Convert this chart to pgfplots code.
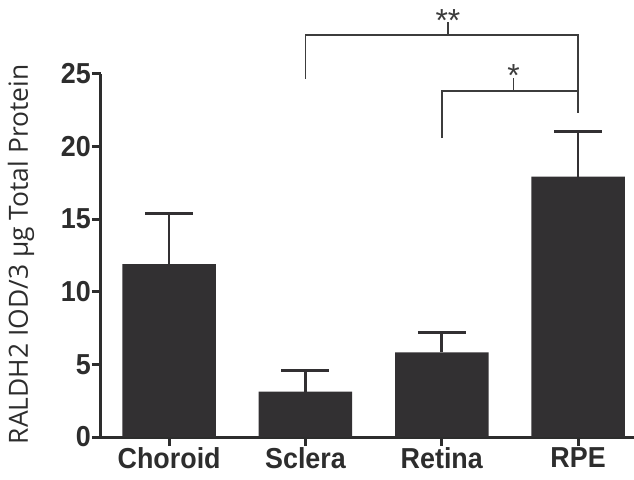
\documentclass[border=0pt]{standalone}
\usepackage{fontspec}
\setmainfont{Liberation Sans}
\newfontfamily\condfont[FakeStretch=0.93]{Liberation Sans Bold}
\newfontfamily\labelfont{Open Sans}
\usepackage{pgfplots}
\pgfplotsset{compat=1.18}
\definecolor{barc}{RGB}{50,48,50}
\definecolor{axc}{RGB}{45,45,45}
\definecolor{brc}{RGB}{60,60,60}
\begin{document}
\begin{tikzpicture}
\path[use as bounding box] (-101bp,-43bp) rectangle (533bp,437bp);
\begin{axis}[
  at={(0,0)}, anchor=south west,
  scale only axis, width=533bp, height=363bp,
  xmin=-0.5, xmax=3.41, ymin=0, ymax=25,
  clip=false,
  axis x line*=bottom, axis y line*=left,
  axis line style={line width=3bp, axc, -},
  xtick={0,1,2,3}, xticklabels={Choroid,Sclera,Retina,RPE},
  ytick={0,5,10,15,20,25},
  tick style={line width=3bp, axc},
  major tick length=9bp, tick align=outside,
  /pgf/number format/assume math mode=true,
  x tick label style={font=\condfont\fontsize{29}{29}\selectfont, text=axc, inner sep=1.5bp},
  y tick label style={font=\condfont\fontsize{29}{29}\selectfont, text=axc, inner sep=1bp},
  ylabel={RALDH2 IOD/3 μg Total Protein},
  ylabel style={font=\labelfont\fontsize{26.5}{26.5}\selectfont, text=axc, at={(axis description cs:-0.150,0.503)}, anchor=center},
]
\addplot[ybar, bar width=93.5bp, fill=barc, draw=none,
  error bars/.cd, y dir=plus, y explicit,
  error bar style={line width=2.6bp, barc},
  error mark options={line width=3bp, mark size=24bp, rotate=90, barc}]
  coordinates {
  (0,11.91) +- (0,3.45)
  (1,3.12) +- (0,1.43)
  (2,5.83) +- (0,1.38)
  (3,17.93) +- (0,3.10)
  };
\addplot[line width=1.5bp, brc] coordinates {(1,24.66) (1,27.69) (3,27.69) (3,22.31)};
\addplot[line width=1.5bp, brc] coordinates {(2.045,27.69) (2.045,28.58)};
\addplot[line width=1.5bp, brc] coordinates {(2,20.59) (2,23.83) (3,23.83)};
\addplot[line width=1.5bp, brc] coordinates {(2.527,23.83) (2.527,24.72)};
\node[anchor=base, inner sep=0pt, text=brc, font=\fontsize{32}{32}\selectfont] at (axis cs:2.045,27.95) {**};
\node[anchor=base, inner sep=0pt, text=brc, font=\fontsize{32}{32}\selectfont] at (axis cs:2.527,24.12) {*};
\end{axis}
\end{tikzpicture}
\end{document}
